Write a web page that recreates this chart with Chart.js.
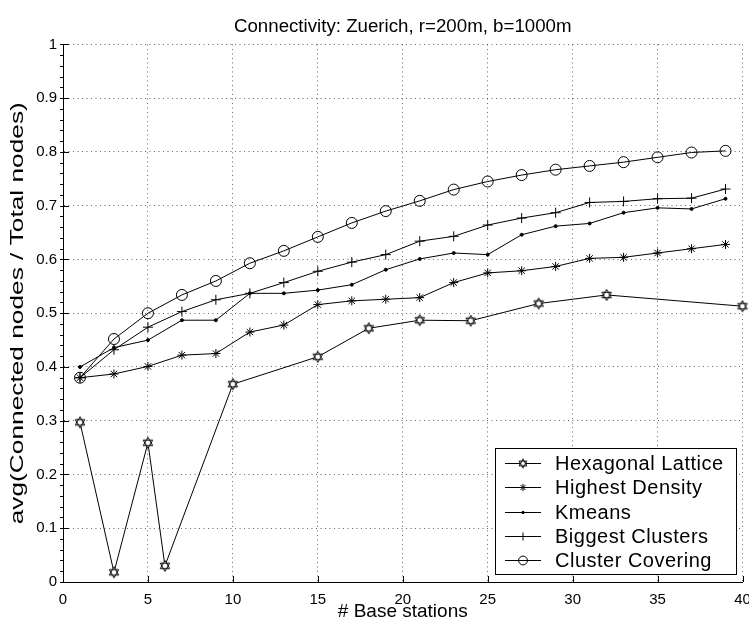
<!DOCTYPE html>
<html>
<head>
<meta charset="utf-8">
<title>Connectivity: Zuerich</title>
<script src="https://cdn.jsdelivr.net/npm/chart.js@4.4.1/dist/chart.umd.min.js"></script>
<style>
  html, body { margin: 0; padding: 0; background: #fff; }
  #wrap { width: 749px; height: 623px; }
</style>
</head>
<body>
<div id="wrap"><canvas id="connChart" width="749" height="623"></canvas></div>
<script>
// x positions (number of base stations)
const hexX = [1, 3, 5, 6, 10, 15, 18, 21, 24, 28, 32, 40];
const oddX = [1, 3, 5, 7, 9, 11, 13, 15, 17, 19, 21, 23, 25, 27, 29, 31, 33, 35, 37, 39];

// avg(connected / total)
const hexagonalY = [0.297, 0.018, 0.259, 0.030, 0.368, 0.419, 0.472, 0.487, 0.486, 0.518, 0.534, 0.513];
const densityY = [0.380, 0.387, 0.401, 0.422, 0.425, 0.465, 0.478, 0.516, 0.523, 0.526,
  0.529, 0.557, 0.575, 0.579, 0.587, 0.602, 0.604, 0.612, 0.620, 0.628];
const kmeansY = [0.400, 0.436, 0.450, 0.487, 0.487, 0.537, 0.537, 0.543, 0.553, 0.581,
  0.601, 0.612, 0.609, 0.646, 0.662, 0.667, 0.687, 0.696, 0.694, 0.713];
const biggestY = [0.380, 0.432, 0.474, 0.503, 0.525, 0.537, 0.557, 0.578, 0.595, 0.609,
  0.634, 0.643, 0.664, 0.677, 0.687, 0.706, 0.708, 0.713, 0.714, 0.731];
const coveringY = [0.380, 0.452, 0.500, 0.534, 0.560, 0.593, 0.616, 0.642, 0.668, 0.690,
  0.709, 0.730, 0.745, 0.757, 0.767, 0.774, 0.781, 0.790, 0.799, 0.802];

const seriesLabels = ["Hexagonal Lattice", "Highest Density", "Kmeans", "Biggest Clusters", "Cluster Covering"];
const xTickStep = 5;
const yTickStep = 0.1;

const FONT = "'Liberation Sans', Arial, Helvetica, sans-serif";
Chart.defaults.font.family = FONT;
Chart.defaults.color = "#000";

function toPoints(xs, ys) {
  return xs.map((x, i) => ({ x: x, y: ys[i] }));
}

// matlab style hexagram marker
function hexagram(r) {
  const size = 2 * Math.ceil(r + 2);
  const c = document.createElement("canvas");
  c.width = size;
  c.height = size;
  const g = c.getContext("2d");
  const cx = size / 2, cy = size / 2;
  g.fillStyle = "#fff";
  g.strokeStyle = "#000";
  g.lineWidth = 1;
  const tri = (start) => {
    g.beginPath();
    for (let k = 0; k < 3; k++) {
      const a = ((start + k * 120) * Math.PI) / 180;
      const px = cx + r * Math.cos(a), py = cy + r * Math.sin(a);
      if (k === 0) g.moveTo(px, py);
      else g.lineTo(px, py);
    }
    g.closePath();
  };
  tri(-90); g.fill();
  tri(90); g.fill();
  tri(-90); g.stroke();
  tri(90); g.stroke();
  return c;
}

const hexMarker = hexagram(5.5);
const hexMarkerSmall = hexagram(4.5);

function series(label, data, style, radius, fill) {
  return {
    label: label,
    data: data,
    borderColor: "#000",
    borderWidth: 1,
    backgroundColor: fill,
    pointStyle: style,
    pointRadius: radius,
    pointBorderColor: "#000",
    pointBackgroundColor: fill,
    pointBorderWidth: 1,
    tension: 0,
    fill: false,
    clip: false,
  };
}

const axisTicks = {
  id: "axisTicks",
  afterDraw(chart) {
    const { ctx, chartArea, scales } = chart;
    ctx.save();
    ctx.strokeStyle = "#000";
    ctx.lineWidth = 1;
    ctx.beginPath();
    scales.x.ticks.forEach((t) => {
      const px = Math.round(scales.x.getPixelForValue(t.value)) + 0.5;
      ctx.moveTo(px, chartArea.bottom);
      ctx.lineTo(px, chartArea.bottom - 6);
    });
    scales.y.ticks.forEach((t) => {
      const py = Math.round(scales.y.getPixelForValue(t.value)) + 0.5;
      ctx.moveTo(chartArea.left, py);
      ctx.lineTo(chartArea.left + 6, py);
    });
    for (let k = 0; k <= 50; k++) {
      const py = Math.round(scales.y.getPixelForValue(k * 0.02)) + 0.5;
      ctx.moveTo(chartArea.left - 3, py);
      ctx.lineTo(chartArea.left, py);
    }
    ctx.stroke();
    ctx.restore();
  },
};

const legendBox = {
  id: "legendBox",
  afterDraw(chart) {
    const { ctx, chartArea } = chart;
    const w = 241;
    const h = 126;
    const left = Math.round(chartArea.right - 7 - w);
    const top = Math.round(chartArea.bottom - 8 - h);
    ctx.save();
    ctx.fillStyle = "#fff";
    ctx.fillRect(left, top, w, h);
    ctx.strokeStyle = "#000";
    ctx.lineWidth = 1;
    ctx.strokeRect(left + 0.5, top + 0.5, w, h);
    ctx.font = "20px " + FONT;
    ctx.letterSpacing = "0.5px";
    ctx.textBaseline = "middle";
    ctx.textAlign = "left";
    chart.data.datasets.forEach((ds, i) => {
      const y = Math.round(top + 15 + i * 24.3) + 0.5;
      ctx.strokeStyle = "#000";
      ctx.beginPath();
      ctx.moveTo(left + 10, y);
      ctx.lineTo(left + 46, y);
      ctx.stroke();
      ctx.fillStyle = ds.pointBackgroundColor;
      const style = ds.pointStyle === hexMarker ? hexMarkerSmall : ds.pointStyle;
      Chart.helpers.drawPoint(
        ctx,
        { pointStyle: style, radius: ds.pointRadius * 0.8, borderWidth: 1, rotation: 0 },
        left + 28,
        y
      );
      ctx.fillStyle = "#000";
      ctx.fillText(ds.label, left + 60, y + 1);
    });
    ctx.restore();
  },
};

const connChart = new Chart(document.getElementById("connChart"), {
  type: "line",
  data: {
    datasets: [
      series(seriesLabels[0], toPoints(hexX, hexagonalY), hexMarker, 5.5, "#fff"),
      series(seriesLabels[1], toPoints(oddX, densityY), "star", 4.5, "rgba(0,0,0,0)"),
      series(seriesLabels[2], toPoints(oddX, kmeansY), "circle", 1.5, "#000"),
      series(seriesLabels[3], toPoints(oddX, biggestY), "cross", 5, "rgba(0,0,0,0)"),
      series(seriesLabels[4], toPoints(oddX, coveringY), "circle", 5.5, "rgba(0,0,0,0)"),
    ],
  },
  options: {
    responsive: false,
    animation: false,
    devicePixelRatio: 1,
    layout: {
      padding: { left: 0, right: 0, top: 0, bottom: 0 },
    },
    plugins: {
      legend: { display: false },
      tooltip: { enabled: false },
      title: {
        display: true,
        fullSize: false,
        text: "Connectivity: Zuerich, r=200m, b=1000m",
        color: "#000",
        font: { size: 18.7, weight: "normal" },
        padding: { top: 16, bottom: 6 },
      },
    },
    scales: {
      x: {
        type: "linear",
        min: 0,
        max: 40,
        ticks: {
          stepSize: xTickStep,
          padding: 9,
          font: { size: 15 },
          color: "#000",
          maxRotation: 0,
        },
        grid: {
          drawTicks: false,
          color: "rgba(0,0,0,0.6)",
          lineWidth: 1,
        },
        border: { display: true, color: "#000", width: 1, dash: [1, 3.5] },
        title: {
          display: true,
          text: "# Base stations",
          font: { size: 19 },
          color: "#000",
          padding: { top: 0, bottom: 0 },
        },
        afterFit: (scale) => {
          scale.height = 41;
          scale.paddingRight = 6;
        },
      },
      y: {
        min: 0,
        max: 1,
        ticks: {
          stepSize: yTickStep,
          padding: 6,
          font: { size: 15 },
          color: "#000",
          callback: (value) => String(Number(value.toFixed(1))),
        },
        grid: {
          drawTicks: false,
          color: "rgba(0,0,0,0.6)",
          lineWidth: 1,
        },
        border: { display: true, color: "#000", width: 1, dash: [1, 3.5] },
        title: {
          display: true,
          text: "avg(Connected nodes / Total nodes)",
          font: { size: 18.5 },
          color: "#000",
          padding: { top: 7, bottom: 0 },
        },
        afterFit: (scale) => {
          scale.width = 63;
          // the original label is stretched along the axis
          if (!scale._stretchTitle) {
            const drawTitle = scale.drawTitle;
            scale.drawTitle = function () {
              const cy = (this.top + this.bottom) / 2;
              this.ctx.save();
              this.ctx.translate(0, cy);
              this.ctx.scale(1, 1.42);
              this.ctx.translate(0, -cy);
              drawTitle.apply(this, arguments);
              this.ctx.restore();
            };
            scale._stretchTitle = true;
          }
        },
      },
    },
  },
  plugins: [axisTicks, legendBox],
});
</script>
</body>
</html>
